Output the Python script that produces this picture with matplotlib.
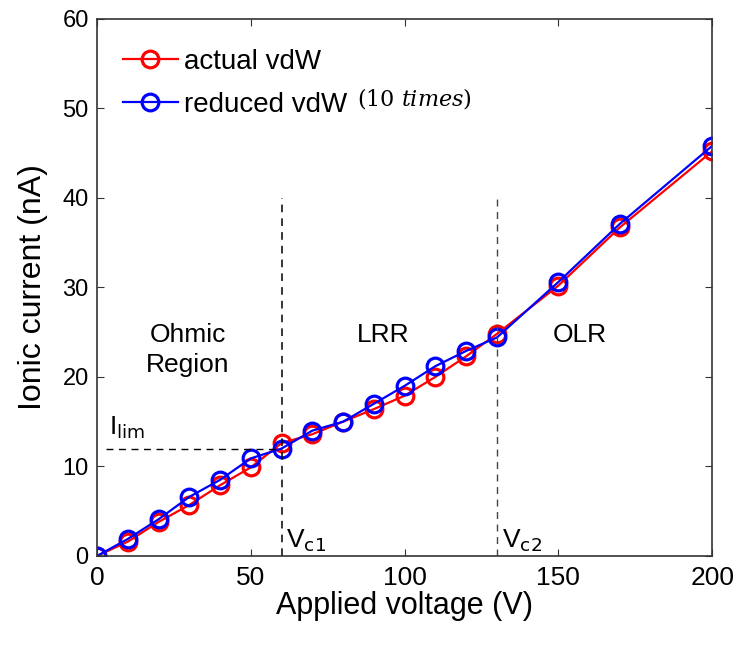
import numpy as np
import matplotlib.pyplot as plt

# applied voltage (V) and ionic current (nA)
voltage = [0, 10, 20, 30, 40, 50, 60, 70, 80, 90, 100, 110, 120, 130, 150, 170, 200]
i_actual = [0, 1.6, 3.8, 5.7, 7.9, 9.9, 12.6, 13.6, 15.0, 16.4, 17.9, 20.0, 22.3, 24.8, 30.2, 36.7, 45.2]
i_reduced = [0, 1.9, 4.1, 6.6, 8.5, 10.9, 12.0, 14.0, 15.0, 17.0, 19.0, 21.2, 22.9, 24.4, 30.6, 37.1, 45.8]

v_c1 = 60
v_c2 = 130
i_lim = 12

plt.rcParams['font.family'] = ['Liberation Sans', 'DejaVu Sans']

fig = plt.figure(figsize=(7.35, 6.45), dpi=100)
ax = fig.add_axes([0.132, 0.138, 0.837, 0.833])

ax.plot(voltage, i_actual, '-o', color='#ff0000', lw=1.6, ms=12, mfc='none',
        mew=2.3, label='actual vdW')
ax.plot(voltage, i_reduced, '-o', color='#0000ff', lw=1.6, ms=12, mfc='none',
        mew=2.3, label='reduced vdW')

# region boundaries
ax.plot([v_c1, v_c1], [0, 40], 'k--', lw=1.1, dashes=(5, 4))
ax.plot([v_c2, v_c2], [0, 40], '--', color='#444444', lw=1.0, dashes=(5, 4))
ax.plot([3, v_c1], [i_lim, i_lim], 'k--', lw=1.0, dashes=(5, 4))

ax.text(29.5, 23.0, 'Ohmic\nRegion', ha='center', va='center', fontsize=19, linespacing=1.3)
ax.text(93, 24.7, 'LRR', ha='center', va='center', fontsize=19)
ax.text(157, 24.7, 'OLR', ha='center', va='center', fontsize=19)
ax.text(4, 13.6, r'I$_{\mathrm{lim}}$', fontsize=19)
ax.text(61.5, 0.9, r'V$_{\mathrm{c1}}$', fontsize=19)
ax.text(131.5, 0.9, r'V$_{\mathrm{c2}}$', fontsize=19)
ax.text(84.5, 50.3, r'$(10\ times)$', fontsize=16, family='DejaVu Serif',
        math_fontfamily='dejavuserif')

ax.legend(loc='upper left', frameon=False, fontsize=20, handlelength=2.0,
          handletextpad=0.2, borderaxespad=0.3, labelspacing=0.62,
          bbox_to_anchor=(0.01, 0.98))

ax.set_xlim(0, 200)
ax.set_ylim(0, 60)
ax.set_xticks([0, 50, 100, 150, 200])
ax.set_yticks(np.arange(0, 61, 10))
ax.tick_params(direction='in', top=True, right=True, length=5, color='#333333')
ax.tick_params(axis='x', labelsize=19, pad=7)
ax.tick_params(axis='y', labelsize=17, pad=6)
for s in ax.spines.values():
    s.set_color('#333333')
    s.set_linewidth(1.2)

ax.set_xlabel('Applied voltage (V)', fontsize=22, labelpad=1)
ax.set_ylabel('Ionic current (nA)', fontsize=23, labelpad=10)

fig.savefig('out.png', dpi=100)
